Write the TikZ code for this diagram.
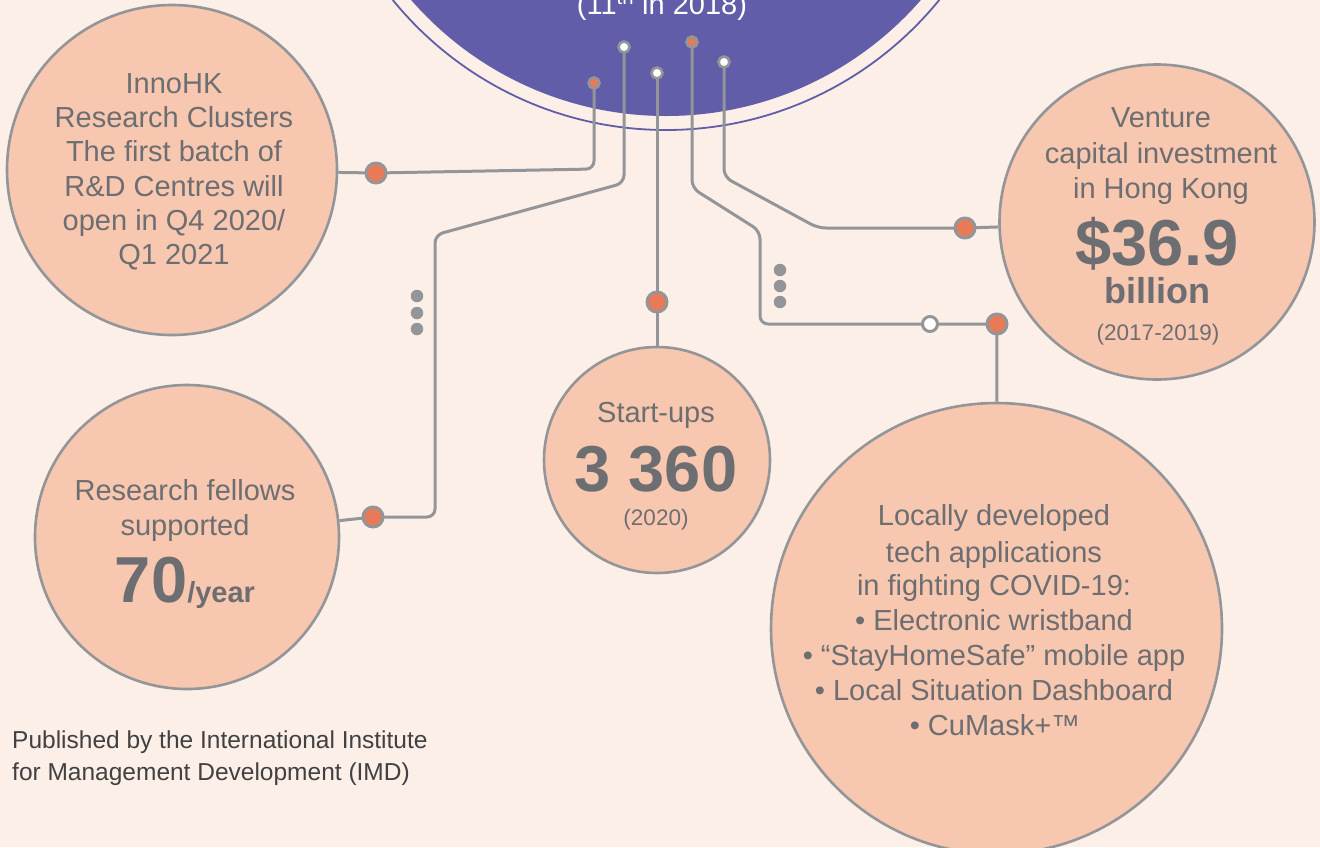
\documentclass[tikz,border=0pt]{standalone}
\usepackage{fontspec}
\setmainfont{Liberation Sans}
\definecolor{bg}{HTML}{FCEFE8}
\definecolor{peach}{HTML}{F7C7B0}
\definecolor{wgray}{HTML}{939598}
\definecolor{tgray}{HTML}{6D6E71}
\definecolor{ipurple}{HTML}{625DA8}
\definecolor{iorange}{HTML}{E97A58}
\definecolor{pubgray}{HTML}{414042}
\pgfdeclarelayer{bottom}
\pgfdeclarelayer{wires}
\pgfsetlayers{bottom,wires,main}
\begin{document}
\begin{tikzpicture}[x=1pt,y=-1pt,
  bubble/.style={circle, draw=wgray, line width=2.6pt, fill=peach, minimum size=#1, inner sep=0pt},
  txt/.style={anchor=base, inner sep=0pt, text=tgray, font=\fontsize{29}{34}\selectfont},
  small/.style={anchor=base, inner sep=0pt, text=tgray, font=\fontsize{22.5}{26}\selectfont},
  bignum/.style={anchor=base, inner sep=0pt, text=tgray, font=\fontsize{65}{70}\selectfont\bfseries},
  wire/.style={draw=wgray, line width=3pt, rounded corners=8pt},
  pin/.style={circle, draw=wgray, line width=2.6pt, minimum size=11pt, inner sep=0pt},
  odot/.style={circle, draw=wgray, line width=3pt, fill=iorange, minimum size=20pt, inner sep=0pt},
  wdot/.style={circle, draw=wgray, line width=3pt, fill=white, minimum size=15pt, inner sep=0pt},
  ell/.style={circle, fill=wgray, minimum size=12.5pt, inner sep=0pt},
  pub/.style={anchor=base west, inner sep=0pt, text=pubgray, font=\fontsize{24.5}{28}\selectfont}]
\useasboundingbox (0,0) rectangle (1320,847);
\clip (0,0) rectangle (1320,847);
\begin{pgfonlayer}{bottom}
\fill[bg] (0,0) rectangle (1320,847);
% purple ranking disc
\fill[ipurple] (666,-222) circle (338pt);
\draw[ipurple, line width=1.8pt] (666,-222) circle (352pt);
\end{pgfonlayer}
\node[anchor=base, inner sep=0pt, text=white, font=\fontsize{29}{34}\selectfont] (rank) at (662,14) {(11\textsuperscript{th} in 2018)};
% pins
\node[pin, fill=iorange] (p1) at (594,83) {};
\node[pin, fill=white] (p2) at (624,47) {};
\node[pin, fill=white] (p3) at (657,73) {};
\node[pin, fill=iorange] (p4) at (692,42) {};
\node[pin, fill=white] (p5) at (724,62) {};
% bubbles
\node[bubble=330pt] (inno) at (172,170) {};
\node[bubble=304pt] (fellows) at (187,537) {};
\node[bubble=226pt] (startups) at (657,460) {};
\node[bubble=315pt] (venture) at (1157,222) {};
\node[bubble=451pt] (covid) at (996.5,628.5) {};
% connector dots
\node[odot] (d1) at (376,173) {};
\node[odot] (d2) at (373,517) {};
\node[odot] (d3) at (657,302) {};
\node[odot] (d4) at (997,324) {};
\node[odot] (d5) at (965,228) {};
\node[wdot] (w1) at (930,324) {};
% wires (behind nodes)
\begin{pgfonlayer}{wires}
\draw[wire] (p1.center) -- (594,169) -- (d1.center) -- (inno);
\draw[wire] (p2.center) -- (624,183) -- (435,235) -- (435,517) -- (d2.center) -- (fellows);
\draw[wire] (p3.center) -- (d3.center) -- (startups);
\draw[wire] (p4.center) -- (692,188) -- (760,231) -- (760,324) -- (w1.center) -- (d4.center) -- (covid);
\draw[wire] (p5.center) -- (724,177) -- (818,228) -- (d5.center) -- (venture);
\end{pgfonlayer}
% ellipsis dots
\node[ell] (e1) at (417,296) {};
\node[ell] (e2) at (417,313) {};
\node[ell] (e3) at (417,329) {};
\node[ell] (e4) at (780,270) {};
\node[ell] (e5) at (780,286) {};
\node[ell] (e6) at (780,302) {};
% InnoHK text
\node[txt] (i1) at (174,93) {InnoHK};
\node[txt] (i2) at (174,127) {Research Clusters};
\node[txt] (i3) at (174,161) {The first batch of};
\node[txt] (i4) at (174,196) {R\&D Centres will};
\node[txt] (i5) at (174,230) {open in Q4 2020/};
\node[txt] (i6) at (174,264) {Q1 2021};
% Research fellows
\node[txt] (f1) at (185,500) {Research fellows};
\node[txt] (f2) at (185,535) {supported};
\node[bignum] (f3) at (185,602) {70{\fontsize{29}{34}\selectfont /year}};
% Start-ups
\node[txt] (s1) at (656,422) {Start-ups};
\node[bignum] (s2) at (656,491) {3 360};
\node[small] (s3) at (656,525) {(2020)};
% Venture
\node[txt] (v1) at (1161,127) {Venture};
\node[txt] (v2) at (1161,163) {capital investment};
\node[txt] (v3) at (1161,198) {in Hong Kong};
\node[bignum] (v4) at (1157,265) {\$36.9};
\node[anchor=base, inner sep=0pt, text=tgray, font=\fontsize{36}{40}\selectfont\bfseries] (v5) at (1157,303) {billion};
\node[small] (v6) at (1158,340) {(2017-2019)};
% COVID
\node[txt] (c1) at (994,525) {Locally developed};
\node[txt] (c2) at (994,562) {tech applications};
\node[txt] (c3) at (994,595) {in fighting COVID-19:};
\node[txt] (c4) at (994,630) {• Electronic wristband};
\node[txt] (c5) at (994,665) {• “StayHomeSafe” mobile app};
\node[txt] (c6) at (994,700) {• Local Situation Dashboard};
\node[txt] (c7) at (995,735) {• CuMask+™};
% publisher note
\node[pub] (pub1) at (12,748) {Published by the International Institute};
\node[pub] (pub2) at (12,780) {for Management Development (IMD)};
\end{tikzpicture}
\end{document}
